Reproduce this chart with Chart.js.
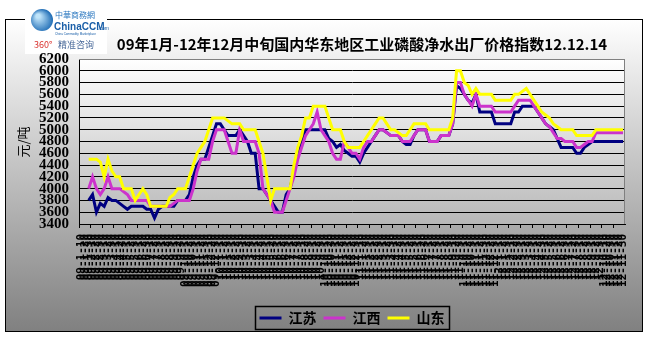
<!DOCTYPE html>
<html>
<head>
<meta charset="utf-8">
<title>磷酸净水出厂价格指数</title>
<script src="https://cdn.jsdelivr.net/npm/chart.js@4.4.0/dist/chart.umd.min.js"></script>
<style>
  html, body { margin: 0; padding: 0; background: #fff; }
  canvas { display: block; }
</style>
</head>
<body>
<canvas id="grafico" width="651" height="339"></canvas>
<script>
// categorias (旬), 141 pontos
const datas = [
  '09-1-10','09-1-20','09-1-30','09-2-10','09-2-20','09-2-30','09-3-10','09-3-20','09-3-30','09-4-10','09-4-20','09-4-30',
  '09-5-10','09-5-20','09-5-30','09-6-10','09-6-20','09-6-30','09-7-10','09-7-20','09-7-30','09-8-10','09-8-20','09-8-30',
  '09-9-10','09-9-20','09-9-30','09-10-10','09-10-20','09-10-30','09-11-10','09-11-20','09-11-30','09-12-10','09-12-20','09-12-30',
  '10-1-10','10-1-20','10-1-30','10-2-10','10-2-20','10-2-30','10-3-10','10-3-20','10-3-30','10-4-10','10-4-20','10-4-30',
  '10-5-10','10-5-20','10-5-30','10-6-10','10-6-20','10-6-30','10-7-10','10-7-20','10-7-30','10-8-10','10-8-20','10-8-30',
  '10-9-10','10-9-20','10-9-30','10-10-10','10-10-20','10-10-30','10-11-10','10-11-20','10-11-30','10-12-10','10-12-20','10-12-30',
  '11-1-10','11-1-20','11-1-30','11-2-10','11-2-20','11-2-30','11-3-10','11-3-20','11-3-30','11-4-10','11-4-20','11-4-30',
  '11-5-10','11-5-20','11-5-30','11-6-10','11-6-20','11-6-30','11-7-10','11-7-20','11-7-30','11-8-10','11-8-20','11-8-30',
  '11-9-10','11-9-20','11-9-30','11-10-10','11-10-20','11-10-30','11-11-10','11-11-20','11-11-30','11-12-10','11-12-20','11-12-30',
  '12-1-10','12-1-20','12-1-30','12-2-10','12-2-20','12-2-30','12-3-10','12-3-20','12-3-30','12-4-10','12-4-20','12-4-30',
  '12-5-10','12-5-20','12-5-30','12-6-10','12-6-20','12-6-30','12-7-10','12-7-20','12-7-30','12-8-10','12-8-20','12-8-30',
  '12-9-10','12-9-20','12-9-30','12-10-10','12-10-20','12-10-30','12-11-10','12-11-20','12-11-30'
]

const jiangsu = [
  null, null, 3800, 3900, 3600, 3750, 3700, 3850, 3800, 3800,
  3750, 3700, 3650, 3700, 3700, 3700, 3700, 3650, 3650, 3500,
  3650, 3700, 3700, 3700, 3700, 3800, 3800, 3800, 3900, 4200,
  4400, 4500, 4500, 4700, 4900, 5100, 5100, 5000, 4900, 4900,
  4900, 5000, 4900, 4800, 4600, 4600, 4000, 4000, 3900, 3800,
  3700, 3600, 3600, 3900, 4000, 4300, 4600, 4800, 5000, 5000,
  5000, 5000, 5000, 5000, 4850, 4800, 4700, 4750, 4650, 4600,
  4550, 4550, 4450, 4600, 4700, 4800, 4900, 5000, 5000, 4950,
  4900, 4900, 4900, 4800, 4750, 4750, 4900, 5000, 5000, 5000,
  4800, 4800, 4800, 4900, 4900, 4900, 5100, 5750, 5700, 5600,
  5500, 5450, 5600, 5300, 5300, 5300, 5300, 5100, 5100, 5100,
  5100, 5100, 5300, 5300, 5400, 5400, 5400, 5400, 5300, 5200,
  5100, 5050, 5000, 4850, 4700, 4700, 4700, 4700, 4600, 4600,
  4700, 4750, 4800, 4800, 4800, 4800, 4800, 4800, 4800, 4800, 4800
]

const jiangxi = [
  null, null, 4000, 4200, 4000, 3900, 4000, 4200, 4000, 4000,
  4000, 3950, 3900, 3800, 3800, 3800, 3800, 3800, 3700, 3700,
  3700, 3700, 3700, 3700, 3750, 3800, 3800, 3800, 3800, 4000,
  4300, 4500, 4500, 4500, 4800, 5000, 5000, 5000, 4800, 4600,
  4600, 5000, 4800, 4800, 4800, 4800, 4600, 4000, 3900, 3800,
  3600, 3600, 3600, 3800, 4000, 4200, 4500, 4700, 4900, 5000,
  5100, 5300, 5000, 4900, 4800, 4600, 4500, 4500, 4800, 4700,
  4600, 4600, 4500, 4700, 4800, 4800, 4900, 5000, 5000, 4950,
  4900, 4900, 4900, 4800, 4800, 4800, 4900, 5000, 5000, 5000,
  4800, 4800, 4800, 4900, 4900, 4900, 5100, 5800, 5800, 5600,
  5500, 5400, 5600, 5400, 5400, 5400, 5400, 5300, 5300, 5300,
  5300, 5300, 5400, 5500, 5500, 5500, 5500, 5400, 5300, 5200,
  5100, 5050, 4950, 4850, 4850, 4800, 4800, 4800, 4700, 4700,
  4750, 4800, 4800, 4950, 4950, 4950, 4950, 4950, 4950, 4950, 4950
]

const shandong = [
  null, null, 4500, 4500, 4500, 4450, 4200, 4500, 4300, 4200,
  4200, 4000, 4000, 4000, 3800, 3900, 4000, 3900, 3700, 3700,
  3700, 3700, 3700, 3850, 3900, 4000, 4000, 4000, 4200, 4400,
  4600, 4700, 4800, 5000, 5200, 5200, 5200, 5200, 5150, 5100,
  5100, 5100, 5000, 5000, 5000, 5000, 4800, 4600, 4200, 3800,
  4000, 4000, 4000, 4000, 4000, 4400, 4700, 4900, 5200, 5200,
  5400, 5400, 5400, 5400, 5200, 5000, 5000, 5000, 4800, 4700,
  4700, 4700, 4700, 4800, 4900, 5000, 5100, 5200, 5200, 5100,
  5000, 5000, 4950, 4900, 4900, 5000, 5100, 5100, 5100, 5100,
  5000, 5000, 5000, 5000, 5000, 5000, 5200, 6000, 6000, 5800,
  5750, 5600, 5700, 5600, 5600, 5600, 5600, 5500, 5500, 5500,
  5500, 5500, 5600, 5600, 5650, 5700, 5600, 5500, 5400, 5300,
  5250, 5200, 5100, 5050, 5000, 5000, 5000, 5000, 4900, 4900,
  4900, 4900, 4900, 5000, 5000, 5000, 5000, 5000, 5000, 5000, 5000
]

const yMin = 3400
const yMax = 6200
const yPasso = 200

const titulo = '09年1月-12年12月中旬国内华东地区工业磷酸净水出厂价格指数12.12.14'

// fundo, moldura, titulo e logo
const enfeites = {
  id: 'enfeites',
  afterLayout(chart){
    // legenda um pouco para a direita, como no original
    const leg = chart.legend
    leg.left += 37
    leg.right += 37
  },
  beforeDraw(chart){
    const ctx = chart.ctx
    const a = chart.chartArea
    ctx.save()
    ctx.fillStyle = '#fff'
    ctx.fillRect(0, 0, chart.width, chart.height)

    let g = ctx.createLinearGradient(0, 19, 0, 332)
    g.addColorStop(0, '#ffffff')
    g.addColorStop(1, '#808080')
    ctx.fillStyle = g
    ctx.fillRect(5, 19, 638, 313)
    ctx.strokeStyle = '#000'
    ctx.lineWidth = 1
    ctx.strokeRect(5.5, 19.5, 637, 312)

    g = ctx.createLinearGradient(0, a.top, 0, a.bottom)
    g.addColorStop(0, '#ffffff')
    g.addColorStop(1, '#b8b8b8')
    ctx.fillStyle = g
    ctx.fillRect(a.left, a.top, a.right - a.left, a.bottom - a.top)

    // logo (fica por baixo dos rotulos)
    ctx.fillStyle = '#fff'
    ctx.fillRect(25, 3, 82, 51)
    g = ctx.createRadialGradient(38, 16, 2, 41, 21, 12)
    g.addColorStop(0, '#bfe4fa')
    g.addColorStop(1, '#1e6cb5')
    ctx.fillStyle = g
    ctx.beginPath()
    ctx.arc(42, 20, 11, 0, Math.PI * 2)
    ctx.fill()
    ctx.textBaseline = 'alphabetic'
    ctx.fillStyle = '#2b78c0'
    ctx.font = '8px "Noto Sans CJK SC"'
    ctx.fillText('中華商務網', 55, 18)
    ctx.fillStyle = '#1a5fa8'
    ctx.font = 'bold 10px "Liberation Sans"'
    ctx.fillText('ChinaCCM', 54, 30)
    ctx.font = '5px "Liberation Sans"'
    ctx.fillText('.com', 98, 30)
    ctx.font = '3px "Liberation Sans"'
    ctx.fillText('China Commodity Marketplace', 55, 35)
    ctx.fillStyle = '#d9302c'
    ctx.font = '9px "Noto Sans CJK SC"'
    ctx.fillText('360°', 34, 48)
    ctx.fillStyle = '#4a6a9a'
    ctx.fillText('精准咨询', 58, 48)
    ctx.restore()
  },
  afterDraw(chart){
    const ctx = chart.ctx
    const a = chart.chartArea
    ctx.save()

    // borda cinza do grafico
    ctx.strokeStyle = '#808080'
    ctx.lineWidth = 1
    ctx.beginPath()
    ctx.moveTo(a.left, a.top + 0.5)
    ctx.lineTo(a.right - 0.5, a.top + 0.5)
    ctx.lineTo(a.right - 0.5, a.bottom)
    ctx.stroke()

    // titulo
    ctx.fillStyle = '#000'
    ctx.font = 'bold 15px "Noto Sans CJK SC"'
    ctx.textAlign = 'center'
    ctx.textBaseline = 'middle'
    ctx.fillText(titulo, 362, 44)

    // titulo eixo y
    ctx.save()
    ctx.translate(23, 142)
    ctx.rotate(-Math.PI / 2)
    ctx.font = '13px "Noto Sans CJK SC"'
    ctx.fillText('元/吨', 0, 0)
    ctx.restore()

    // caixa da legenda
    const caixas = chart.legend.legendHitBoxes
    if (caixas && caixas.length){
      let esq = Math.min(...caixas.map(c => c.left))
      let dir = Math.max(...caixas.map(c => c.left + c.width))
      let topo = caixas[0].top
      let alt = caixas[0].height
      ctx.strokeStyle = '#000'
      ctx.lineWidth = 1.5
      ctx.strokeRect(Math.round(esq) - 4.5, Math.round(topo) - 4.5, Math.round(dir - esq) + 9, Math.round(alt) + 9)
    }

    ctx.restore()
  }
}

new Chart(document.getElementById('grafico'), {
  type: 'line',
  data: {
    labels: datas,
    datasets: [
      { label: '江苏', data: jiangsu, borderColor: '#000080', backgroundColor: '#000080', borderWidth: 3, pointRadius: 0, order: 2 },
      { label: '江西', data: jiangxi, borderColor: '#cc33cc', backgroundColor: '#cc33cc', borderWidth: 3, pointRadius: 0, order: 1 },
      { label: '山东', data: shandong, borderColor: '#ffff00', backgroundColor: '#ffff00', borderWidth: 3, pointRadius: 0, order: 0 }
    ]
  },
  options: {
    responsive: false,
    animation: false,
    devicePixelRatio: 1,
    layout: { padding: { top: 59, left: 5, right: 26, bottom: 4 } },
    plugins: {
      title: { display: false },
      tooltip: { enabled: false },
      legend: {
        position: 'bottom',
        labels: {
          usePointStyle: true,
          pointStyle: 'line',
          pointStyleWidth: 22,
          padding: 7,
          color: '#000',
          font: { family: '"Noto Sans CJK SC"', size: 14, weight: 'bold' },
          sort: (a, b) => a.datasetIndex - b.datasetIndex
        }
      }
    },
    scales: {
      x: {
        offset: true,
        afterFit: (s) => { s.height = 80 },
        grid: {
          offset: true,
          drawOnChartArea: false,
          tickLength: 4,
          color: (c) => c.index % 3 === 0 ? '#000' : 'rgba(0,0,0,0)'
        },
        border: { color: '#000', width: 1 },
        ticks: {
          autoSkip: false,
          maxRotation: 90,
          minRotation: 90,
          padding: 6,
          color: '#000',
          font: { family: '"DejaVu Sans Mono"', size: 11, weight: 'bold' }
        }
      },
      y: {
        min: yMin,
        max: yMax,
        afterFit: (s) => { s.width = 74 },
        grid: {
          drawTicks: false,
          color: (c) => c.tick && c.tick.value === yMax ? '#808080' : '#000'
        },
        border: { color: '#000', width: 1 },
        ticks: {
          stepSize: yPasso,
          autoSkip: false,
          padding: 10,
          color: '#000',
          font: { family: '"Liberation Serif"', size: 15, weight: 'bold' },
          callback: (v) => String(v)
        }
      }
    }
  },
  plugins: [enfeites]
})
</script>
</body>
</html>
